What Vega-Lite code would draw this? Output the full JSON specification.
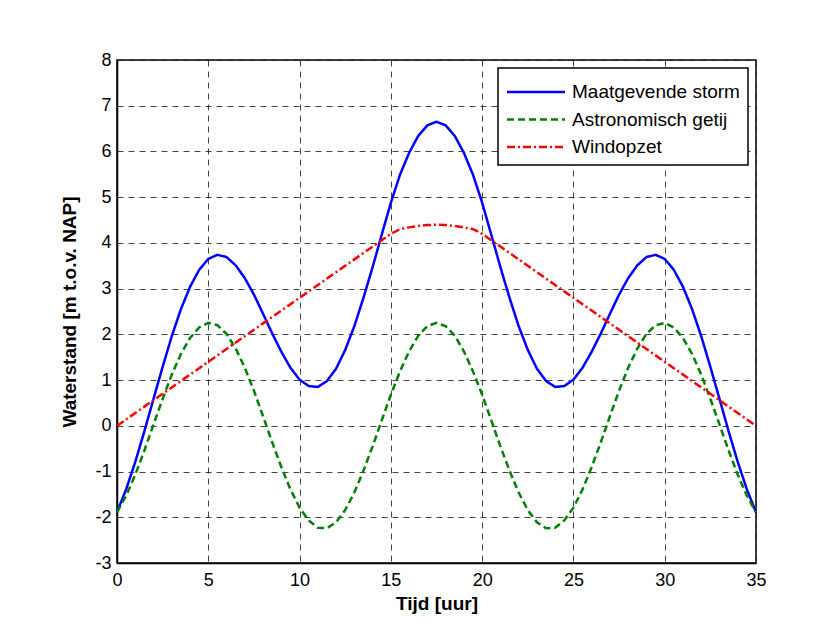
{
  "$schema": "https://vega.github.io/schema/vega-lite/v6.json",
  "width": 639,
  "height": 503,
  "autosize": {"type": "none"},
  "padding": {"left": 117, "top": 60, "right": 66, "bottom": 63},
  "background": "white",
  "config": {
    "font": "Liberation Sans",
    "view": {"stroke": "black", "strokeWidth": 1.5},
    "axis": {
      "labelFont": "Liberation Sans", "labelFontSize": 18, "labelColor": "black", "labelFlush": false,
      "labelExpr": "'' + datum.value",
      "titleFont": "Liberation Sans", "titleFontSize": 19, "titleFontWeight": "bold", "titleColor": "black",
      "domainColor": "black", "domainWidth": 1.5, "ticks": false,
      "grid": true, "gridColor": "#222", "gridDash": [6, 5], "gridWidth": 1, "gridOpacity": 0.85
    },
    "legend": {
      "orient": "top-right", "offset": 8, "padding": 8, "titlePadding": 0,
      "strokeColor": "black", "strokeWidth": 1.5, "fillColor": "white",
      "labelFont": "Liberation Sans", "labelFontSize": 19, "labelColor": "black", "labelLimit": 0,
      "symbolType": "M-2,0H2", "symbolSize": 841, "symbolStrokeWidth": 2.5, "symbolOffset": 14,
      "labelOffset": 20, "rowPadding": 1.5
    }
  },
  "data": {"values": [
    {"t":0,"s":"Maatgevende storm","v":-1.89},{"t":0.5,"s":"Maatgevende storm","v":-1.39},{"t":1,"s":"Maatgevende storm","v":-0.79},{"t":1.5,"s":"Maatgevende storm","v":-0.12},{"t":2,"s":"Maatgevende storm","v":0.59},{"t":2.5,"s":"Maatgevende storm","v":1.29},{"t":3,"s":"Maatgevende storm","v":1.96},{"t":3.5,"s":"Maatgevende storm","v":2.55},{"t":4,"s":"Maatgevende storm","v":3.04},{"t":4.5,"s":"Maatgevende storm","v":3.41},{"t":5,"s":"Maatgevende storm","v":3.65},{"t":5.5,"s":"Maatgevende storm","v":3.74},{"t":6,"s":"Maatgevende storm","v":3.69},{"t":6.5,"s":"Maatgevende storm","v":3.51},{"t":7,"s":"Maatgevende storm","v":3.23},{"t":7.5,"s":"Maatgevende storm","v":2.87},{"t":8,"s":"Maatgevende storm","v":2.45},{"t":8.5,"s":"Maatgevende storm","v":2.02},{"t":9,"s":"Maatgevende storm","v":1.62},{"t":9.5,"s":"Maatgevende storm","v":1.27},{"t":10,"s":"Maatgevende storm","v":1.01},{"t":10.5,"s":"Maatgevende storm","v":0.87},{"t":11,"s":"Maatgevende storm","v":0.85},{"t":11.5,"s":"Maatgevende storm","v":0.98},{"t":12,"s":"Maatgevende storm","v":1.25},{"t":12.5,"s":"Maatgevende storm","v":1.66},{"t":13,"s":"Maatgevende storm","v":2.18},{"t":13.5,"s":"Maatgevende storm","v":2.80},{"t":14,"s":"Maatgevende storm","v":3.47},{"t":14.5,"s":"Maatgevende storm","v":4.18},{"t":15,"s":"Maatgevende storm","v":4.88},{"t":15.5,"s":"Maatgevende storm","v":5.49},{"t":16,"s":"Maatgevende storm","v":5.97},{"t":16.5,"s":"Maatgevende storm","v":6.34},{"t":17,"s":"Maatgevende storm","v":6.57},{"t":17.5,"s":"Maatgevende storm","v":6.65},{"t":18,"s":"Maatgevende storm","v":6.57},{"t":18.5,"s":"Maatgevende storm","v":6.34},{"t":19,"s":"Maatgevende storm","v":5.97},{"t":19.5,"s":"Maatgevende storm","v":5.49},{"t":20,"s":"Maatgevende storm","v":4.88},{"t":20.5,"s":"Maatgevende storm","v":4.18},{"t":21,"s":"Maatgevende storm","v":3.47},{"t":21.5,"s":"Maatgevende storm","v":2.80},{"t":22,"s":"Maatgevende storm","v":2.18},{"t":22.5,"s":"Maatgevende storm","v":1.66},{"t":23,"s":"Maatgevende storm","v":1.25},{"t":23.5,"s":"Maatgevende storm","v":0.98},{"t":24,"s":"Maatgevende storm","v":0.85},{"t":24.5,"s":"Maatgevende storm","v":0.87},{"t":25,"s":"Maatgevende storm","v":1.01},{"t":25.5,"s":"Maatgevende storm","v":1.27},{"t":26,"s":"Maatgevende storm","v":1.62},{"t":26.5,"s":"Maatgevende storm","v":2.02},{"t":27,"s":"Maatgevende storm","v":2.45},{"t":27.5,"s":"Maatgevende storm","v":2.87},{"t":28,"s":"Maatgevende storm","v":3.23},{"t":28.5,"s":"Maatgevende storm","v":3.51},{"t":29,"s":"Maatgevende storm","v":3.69},{"t":29.5,"s":"Maatgevende storm","v":3.74},{"t":30,"s":"Maatgevende storm","v":3.65},{"t":30.5,"s":"Maatgevende storm","v":3.41},{"t":31,"s":"Maatgevende storm","v":3.04},{"t":31.5,"s":"Maatgevende storm","v":2.55},{"t":32,"s":"Maatgevende storm","v":1.96},{"t":32.5,"s":"Maatgevende storm","v":1.29},{"t":33,"s":"Maatgevende storm","v":0.59},{"t":33.5,"s":"Maatgevende storm","v":-0.12},{"t":34,"s":"Maatgevende storm","v":-0.79},{"t":34.5,"s":"Maatgevende storm","v":-1.39},{"t":35,"s":"Maatgevende storm","v":-1.89},
    {"t":0,"s":"Astronomisch getij","v":-1.89},{"t":0.5,"s":"Astronomisch getij","v":-1.53},{"t":1,"s":"Astronomisch getij","v":-1.07},{"t":1.5,"s":"Astronomisch getij","v":-0.54},{"t":2,"s":"Astronomisch getij","v":0.03},{"t":2.5,"s":"Astronomisch getij","v":0.59},{"t":3,"s":"Astronomisch getij","v":1.12},{"t":3.5,"s":"Astronomisch getij","v":1.57},{"t":4,"s":"Astronomisch getij","v":1.92},{"t":4.5,"s":"Astronomisch getij","v":2.15},{"t":5,"s":"Astronomisch getij","v":2.25},{"t":5.5,"s":"Astronomisch getij","v":2.20},{"t":6,"s":"Astronomisch getij","v":2.01},{"t":6.5,"s":"Astronomisch getij","v":1.69},{"t":7,"s":"Astronomisch getij","v":1.27},{"t":7.5,"s":"Astronomisch getij","v":0.77},{"t":8,"s":"Astronomisch getij","v":0.21},{"t":8.5,"s":"Astronomisch getij","v":-0.36},{"t":9,"s":"Astronomisch getij","v":-0.90},{"t":9.5,"s":"Astronomisch getij","v":-1.39},{"t":10,"s":"Astronomisch getij","v":-1.79},{"t":10.5,"s":"Astronomisch getij","v":-2.07},{"t":11,"s":"Astronomisch getij","v":-2.23},{"t":11.5,"s":"Astronomisch getij","v":-2.24},{"t":12,"s":"Astronomisch getij","v":-2.11},{"t":12.5,"s":"Astronomisch getij","v":-1.84},{"t":13,"s":"Astronomisch getij","v":-1.46},{"t":13.5,"s":"Astronomisch getij","v":-0.98},{"t":14,"s":"Astronomisch getij","v":-0.45},{"t":14.5,"s":"Astronomisch getij","v":0.12},{"t":15,"s":"Astronomisch getij","v":0.68},{"t":15.5,"s":"Astronomisch getij","v":1.19},{"t":16,"s":"Astronomisch getij","v":1.63},{"t":16.5,"s":"Astronomisch getij","v":1.97},{"t":17,"s":"Astronomisch getij","v":2.18},{"t":17.5,"s":"Astronomisch getij","v":2.25},{"t":18,"s":"Astronomisch getij","v":2.18},{"t":18.5,"s":"Astronomisch getij","v":1.97},{"t":19,"s":"Astronomisch getij","v":1.63},{"t":19.5,"s":"Astronomisch getij","v":1.19},{"t":20,"s":"Astronomisch getij","v":0.68},{"t":20.5,"s":"Astronomisch getij","v":0.12},{"t":21,"s":"Astronomisch getij","v":-0.45},{"t":21.5,"s":"Astronomisch getij","v":-0.98},{"t":22,"s":"Astronomisch getij","v":-1.46},{"t":22.5,"s":"Astronomisch getij","v":-1.84},{"t":23,"s":"Astronomisch getij","v":-2.11},{"t":23.5,"s":"Astronomisch getij","v":-2.24},{"t":24,"s":"Astronomisch getij","v":-2.23},{"t":24.5,"s":"Astronomisch getij","v":-2.07},{"t":25,"s":"Astronomisch getij","v":-1.79},{"t":25.5,"s":"Astronomisch getij","v":-1.39},{"t":26,"s":"Astronomisch getij","v":-0.90},{"t":26.5,"s":"Astronomisch getij","v":-0.36},{"t":27,"s":"Astronomisch getij","v":0.21},{"t":27.5,"s":"Astronomisch getij","v":0.77},{"t":28,"s":"Astronomisch getij","v":1.27},{"t":28.5,"s":"Astronomisch getij","v":1.69},{"t":29,"s":"Astronomisch getij","v":2.01},{"t":29.5,"s":"Astronomisch getij","v":2.20},{"t":30,"s":"Astronomisch getij","v":2.25},{"t":30.5,"s":"Astronomisch getij","v":2.15},{"t":31,"s":"Astronomisch getij","v":1.92},{"t":31.5,"s":"Astronomisch getij","v":1.57},{"t":32,"s":"Astronomisch getij","v":1.12},{"t":32.5,"s":"Astronomisch getij","v":0.59},{"t":33,"s":"Astronomisch getij","v":0.03},{"t":33.5,"s":"Astronomisch getij","v":-0.54},{"t":34,"s":"Astronomisch getij","v":-1.07},{"t":34.5,"s":"Astronomisch getij","v":-1.53},{"t":35,"s":"Astronomisch getij","v":-1.89},
    {"t":0,"s":"Windopzet","v":0},{"t":0.5,"s":"Windopzet","v":0.14},{"t":1,"s":"Windopzet","v":0.28},{"t":1.5,"s":"Windopzet","v":0.42},{"t":2,"s":"Windopzet","v":0.56},{"t":2.5,"s":"Windopzet","v":0.70},{"t":3,"s":"Windopzet","v":0.84},{"t":3.5,"s":"Windopzet","v":0.98},{"t":4,"s":"Windopzet","v":1.12},{"t":4.5,"s":"Windopzet","v":1.26},{"t":5,"s":"Windopzet","v":1.40},{"t":5.5,"s":"Windopzet","v":1.54},{"t":6,"s":"Windopzet","v":1.68},{"t":6.5,"s":"Windopzet","v":1.82},{"t":7,"s":"Windopzet","v":1.96},{"t":7.5,"s":"Windopzet","v":2.10},{"t":8,"s":"Windopzet","v":2.24},{"t":8.5,"s":"Windopzet","v":2.38},{"t":9,"s":"Windopzet","v":2.52},{"t":9.5,"s":"Windopzet","v":2.66},{"t":10,"s":"Windopzet","v":2.80},{"t":10.5,"s":"Windopzet","v":2.94},{"t":11,"s":"Windopzet","v":3.08},{"t":11.5,"s":"Windopzet","v":3.22},{"t":12,"s":"Windopzet","v":3.36},{"t":12.5,"s":"Windopzet","v":3.50},{"t":13,"s":"Windopzet","v":3.64},{"t":13.5,"s":"Windopzet","v":3.78},{"t":14,"s":"Windopzet","v":3.92},{"t":14.5,"s":"Windopzet","v":4.06},{"t":15,"s":"Windopzet","v":4.20},{"t":15.5,"s":"Windopzet","v":4.30},{"t":16,"s":"Windopzet","v":4.34},{"t":16.5,"s":"Windopzet","v":4.37},{"t":17,"s":"Windopzet","v":4.39},{"t":17.5,"s":"Windopzet","v":4.40},{"t":18,"s":"Windopzet","v":4.39},{"t":18.5,"s":"Windopzet","v":4.37},{"t":19,"s":"Windopzet","v":4.34},{"t":19.5,"s":"Windopzet","v":4.30},{"t":20,"s":"Windopzet","v":4.20},{"t":20.5,"s":"Windopzet","v":4.06},{"t":21,"s":"Windopzet","v":3.92},{"t":21.5,"s":"Windopzet","v":3.78},{"t":22,"s":"Windopzet","v":3.64},{"t":22.5,"s":"Windopzet","v":3.50},{"t":23,"s":"Windopzet","v":3.36},{"t":23.5,"s":"Windopzet","v":3.22},{"t":24,"s":"Windopzet","v":3.08},{"t":24.5,"s":"Windopzet","v":2.94},{"t":25,"s":"Windopzet","v":2.80},{"t":25.5,"s":"Windopzet","v":2.66},{"t":26,"s":"Windopzet","v":2.52},{"t":26.5,"s":"Windopzet","v":2.38},{"t":27,"s":"Windopzet","v":2.24},{"t":27.5,"s":"Windopzet","v":2.10},{"t":28,"s":"Windopzet","v":1.96},{"t":28.5,"s":"Windopzet","v":1.82},{"t":29,"s":"Windopzet","v":1.68},{"t":29.5,"s":"Windopzet","v":1.54},{"t":30,"s":"Windopzet","v":1.40},{"t":30.5,"s":"Windopzet","v":1.26},{"t":31,"s":"Windopzet","v":1.12},{"t":31.5,"s":"Windopzet","v":0.98},{"t":32,"s":"Windopzet","v":0.84},{"t":32.5,"s":"Windopzet","v":0.70},{"t":33,"s":"Windopzet","v":0.56},{"t":33.5,"s":"Windopzet","v":0.42},{"t":34,"s":"Windopzet","v":0.28},{"t":34.5,"s":"Windopzet","v":0.14},{"t":35,"s":"Windopzet","v":0}
  ]},
  "mark": {"type": "line", "strokeWidth": 2.5},
  "encoding": {
    "x": {
      "field": "t", "type": "quantitative",
      "scale": {"domain": [0, 35], "nice": false, "zero": false},
      "axis": {"values": [0, 5, 10, 15, 20, 25, 30, 35], "title": "Tijd [uur]", "labelPadding": 8, "titlePadding": 5}
    },
    "y": {
      "field": "v", "type": "quantitative",
      "scale": {"domain": [-3, 8], "nice": false, "zero": false},
      "axis": {"values": [-3, -2, -1, 0, 1, 2, 3, 4, 5, 6, 7, 8], "title": "Waterstand [m t.o.v. NAP]", "labelPadding": 6, "titlePadding": 15}
    },
    "color": {
      "field": "s", "type": "nominal", "title": null,
      "scale": {"domain": ["Maatgevende storm", "Astronomisch getij", "Windopzet"], "range": ["#0000ff", "#008000", "#ff0000"]}
    },
    "strokeDash": {
      "field": "s", "type": "nominal", "title": null,
      "scale": {"domain": ["Maatgevende storm", "Astronomisch getij", "Windopzet"], "range": [[1, 0], [7, 4], [8, 3, 2, 3]]}
    }
  }
}
